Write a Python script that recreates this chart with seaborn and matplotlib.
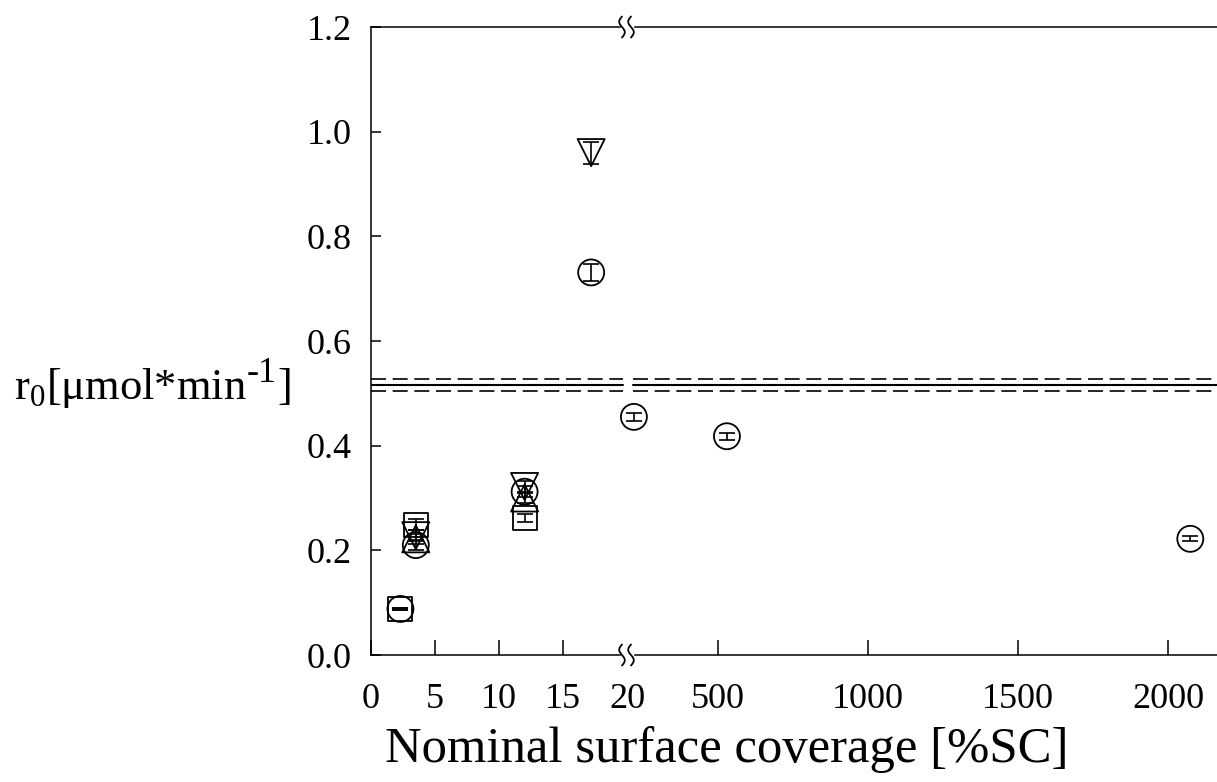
import numpy as np
import pandas as pd
import matplotlib
matplotlib.use("Agg")
import matplotlib.pyplot as plt
import seaborn as sns

# ---------------- data ----------------
circle_x = [2.3, 3.5, 12.0, 17.2, 220, 530, 2074]
circle_y = [0.088, 0.210, 0.312, 0.731, 0.455, 0.418, 0.222]
circle_err = [0.002, 0.010, 0.010, 0.017, 0.007, 0.007, 0.005]

square_x = [2.3, 3.5, 12.0]
square_y = [0.088, 0.249, 0.262]
square_err = [0.002, 0.010, 0.008]

tridown_x = [3.5, 12.0, 17.2]
tridown_y = [0.228, 0.322, 0.960]
tridown_err = [0.010, 0.010, 0.021]

triup_x = [3.5, 12.0]
triup_y = [0.222, 0.300]
triup_err = [0.010, 0.010]

ref_mean = 0.516
ref_sd = 0.0115

left_ticks = [0, 5, 10, 15, 20]
right_ticks = [500, 1000, 1500, 2000]
y_ticks = [0.0, 0.2, 0.4, 0.6, 0.8, 1.0, 1.2]

xlabel = "Nominal surface coverage [%SC]"
ylabel_parts = [(r"r$_{\mathregular{0}}$[μmol*min", 0), ("-1", 1), ("]", 0)]

# ---------------- style ----------------
sns.set_theme(style="ticks")
plt.rcParams["font.family"] = ["Liberation Serif", "DejaVu Serif"]
plt.rcParams["mathtext.fontset"] = "custom"
plt.rcParams["mathtext.rm"] = "Liberation Serif"
plt.rcParams["axes.linewidth"] = 1.1
plt.rcParams["text.color"] = "black"

W, H = 1217, 782
fig = plt.figure(figsize=(W / 100, H / 100), dpi=100)
x0, xb, y0, y1 = 371, 627, 655, 27
axL = fig.add_axes([x0 / W, 1 - y0 / H, (xb - x0) / W, (y0 - y1) / H])
axR = fig.add_axes([xb / W, 1 - y0 / H, (W - xb) / W, (y0 - y1) / H])

series = [
    (circle_x, circle_y, circle_err, "o", 350),
    (square_x, square_y, square_err, "s", 300),
    (tridown_x, tridown_y, tridown_err, "v", 380),
    (triup_x, triup_y, triup_err, "^", 380),
]

LX = (0, 20)
RX = (197, 2163)

for ax, (lo, hi) in ((axL, LX), (axR, RX)):
    for xs, ys, es, mk, s in series:
        df = pd.DataFrame({"x": xs, "y": ys, "e": es})
        df = df[(df.x >= lo) & (df.x <= hi)]
        if df.empty:
            continue
        sns.scatterplot(data=df, x="x", y="y", marker=mk, s=s, ax=ax,
                        facecolor="none", edgecolor="black", linewidth=1.3,
                        clip_on=False, zorder=3, legend=False)
        ax.errorbar(df.x, df.y, yerr=df.e, fmt="none", ecolor="black",
                    elinewidth=1.2, capsize=5.5, capthick=1.2, clip_on=False,
                    zorder=4)
    ax.set_xlim(lo, hi)
    ax.set_ylim(0, 1.2)
    ax.set_xlabel("")
    ax.set_ylabel("")

# reference lines (mean +- sd)
for ax, kw in ((axL, dict(xmin=0, xmax=0.985)), (axR, dict(xmin=0.01, xmax=1))):
    ax.axhline(ref_mean, color="black", lw=1.5, **kw, zorder=2)
    for v in (ref_mean + ref_sd, ref_mean - ref_sd):
        ax.axhline(v, color="black", lw=1.2, dashes=(9, 4), **kw, zorder=2)

# ticks
axL.set_xticks(left_ticks)
axL.set_xticklabels([str(t) for t in left_ticks])
axR.set_xticks(right_ticks)
axR.set_xticklabels([str(t) for t in right_ticks])
axL.set_yticks(y_ticks)
axL.set_yticklabels([f"{t:.1f}" for t in y_ticks])
axR.set_yticks([])

for ax in (axL, axR):
    ax.tick_params(axis="x", direction="in", length=11, width=1.1,
                   labelsize=26, pad=20, colors="black")
    ax.tick_params(axis="y", direction="in", length=7, width=1.1,
                   labelsize=26, pad=14, colors="black")
    for sp in ax.spines.values():
        sp.set_color("black")

# hide tick line at 20 (break position)
xt = axL.xaxis.get_major_ticks()
xt[-1].tick1line.set_visible(False)
xt[-1].tick2line.set_visible(False)

axL.spines["right"].set_visible(False)
axR.spines["left"].set_visible(False)
axR.spines["right"].set_visible(False)
axL.spines["bottom"].set_bounds(0, 20 - 7 / 12.8)
axL.spines["top"].set_bounds(0, 20 - 7 / 12.8)
axR.spines["bottom"].set_bounds(RX[0] + 8 / 0.3, RX[1])
axR.spines["top"].set_bounds(RX[0] + 8 / 0.3, RX[1])

# break symbols on top and bottom spines
t = np.linspace(-1, 1, 40)
for ybase in (y0, y1):
    for xc in (622, 631):
        xs = xc + 2.8 * np.sin(np.pi * t)
        ys = ybase + 10.5 * t
        fig.add_artist(plt.Line2D(xs / W, 1 - ys / H, color="black", lw=1.3,
                                  transform=fig.transFigure))

# y label composed of pieces (large superscript as in the original)
renderer = fig.canvas.get_renderer()
xpos = 14
base_y = 1 - 399 / H
for txt, sup in ylabel_parts:
    fs = 32 if not sup else 26
    dy = 0 if not sup else 17
    tobj = fig.text(xpos / W, base_y + dy / H, txt, fontsize=fs,
                    ha="left", va="baseline", color="black")
    bb = tobj.get_window_extent(renderer=renderer)
    xpos += bb.width + (1 if sup else 0)

fig.text(727 / W, 1 - 750 / H, xlabel, fontsize=36.5, ha="center",
         va="center", color="black")

fig.savefig("out.png", dpi=100)
